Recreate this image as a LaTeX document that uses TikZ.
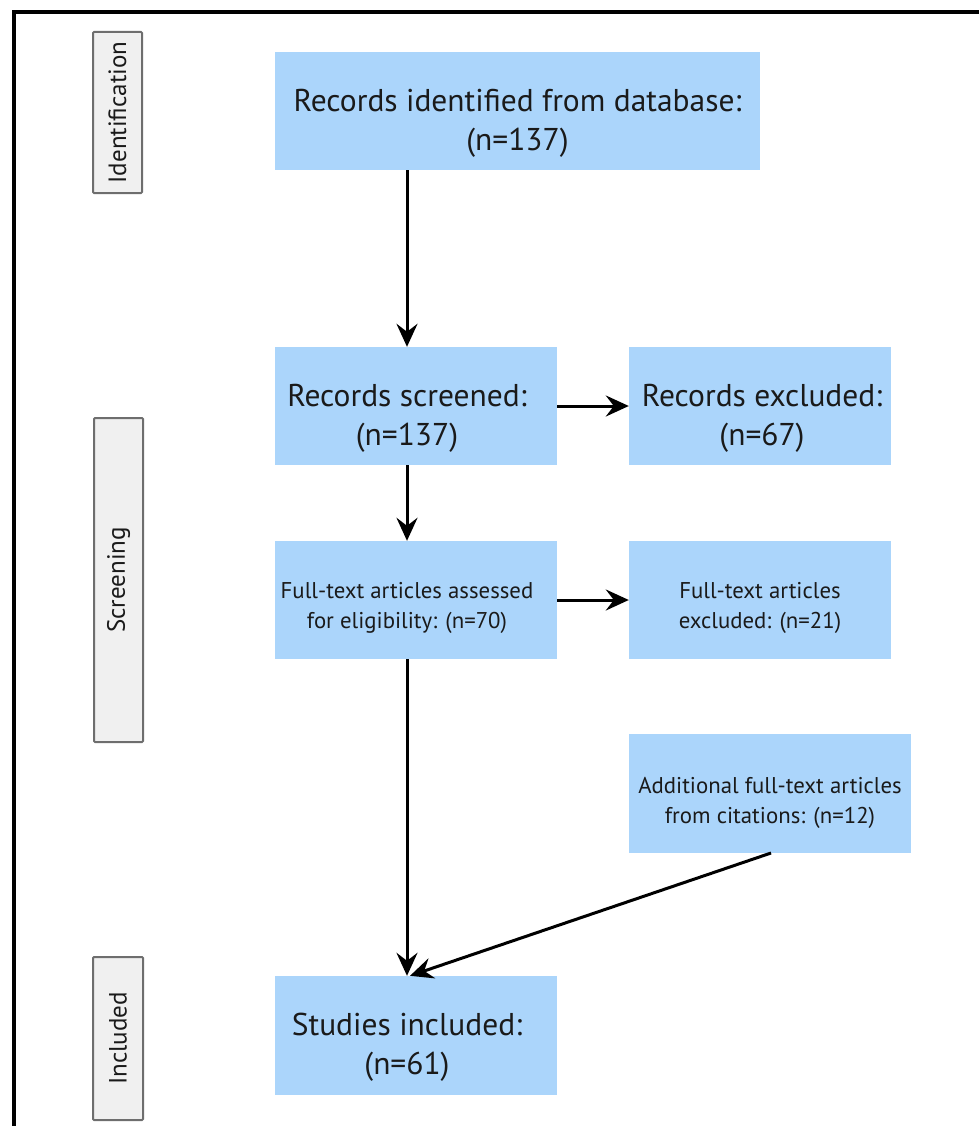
\documentclass[tikz,border=0pt]{standalone}
\usepackage{fontspec}
\setmainfont{PT Sans}
\usepackage{tikz}
\usetikzlibrary{arrows.meta,positioning}

\definecolor{boxblue}{RGB}{171,213,251}
\definecolor{stagegray}{RGB}{240,240,240}
\definecolor{stageline}{RGB}{110,110,110}
\definecolor{ink}{RGB}{26,26,26}

\tikzset{
  flowbox/.style={fill=boxblue, inner sep=0pt},
  bigtext/.style={text=ink, align=center, font=\fontsize{31.5}{39}\selectfont},
  smalltext/.style={text=ink, align=center, font=\fontsize{22.8}{30}\selectfont},
  stage/.style={draw=stageline, fill=stagegray, line width=2pt, rounded corners=1pt},
  stagetext/.style={rotate=90, text=ink, font=\fontsize{25}{30}\selectfont},
  flow/.style={line width=3pt, -{Stealth[length=23pt,width=21pt,inset=8pt]}}
}

\begin{document}
\begin{tikzpicture}[x=1pt,y=-1pt]
  \useasboundingbox (0,0) rectangle (979,1126);
  % frame
  \draw[line width=3.2pt] (14,1126) -- (14,12) -- (979,12);

  % stages
  \node[stage, minimum width=49pt, minimum height=161pt] (sid) at (117.5,112.5) {};
  \node[stagetext] at (sid) {Identification};
  \node[stage, minimum width=49pt, minimum height=324pt] (sscr) at (118.5,580) {};
  \node[stagetext] at (sscr) {Screening};
  \node[stage, minimum width=50pt, minimum height=163pt] (sinc) at (118,1038.5) {};
  \node[stagetext] at (sinc) {Included};

  % boxes
  \node[flowbox, minimum width=485pt, minimum height=118pt] (ident) at (517.5,111) {};
  \node[bigtext] at ([yshift=-12pt]ident.center) {Records identified from database:\\(n=137)};
  \node[flowbox, minimum width=282pt, minimum height=118pt] (screen) at (416,406) {};
  \node[bigtext] at ([xshift=-9pt,yshift=-12pt]screen.center) {Records screened:\\(n=137)};
  \node[flowbox, minimum width=262pt, minimum height=118pt] (excl) at (760,406) {};
  \node[bigtext] at ([xshift=2pt,yshift=-12pt]excl.center) {Records excluded:\\(n=67)};
  \node[flowbox, minimum width=282pt, minimum height=118pt] (full) at (416,600) {};
  \node[smalltext] at ([xshift=-9pt,yshift=-8pt]full.center) {Full-text articles assessed\\for eligibility: (n=70)};
  \node[flowbox, minimum width=262pt, minimum height=118pt] (fullexcl) at (760,600) {};
  \node[smalltext] at ([yshift=-8pt]fullexcl.center) {Full-text articles\\excluded: (n=21)};
  \node[flowbox, minimum width=282pt, minimum height=119pt] (addit) at (770,793.5) {};
  \node[smalltext] at ([yshift=-9pt]addit.center) {Additional full-text articles\\from citations: (n=12)};
  \node[flowbox, minimum width=282pt, minimum height=119pt] (incl) at (416,1035.5) {};
  \node[bigtext] at ([xshift=-9pt,yshift=-12pt]incl.center) {Studies included:\\(n=61)};

  \coordinate (spine) at (407,0);
  \coordinate (citeout) at (771,853);

  \draw[flow] (ident.south -| spine) -- (screen.north -| spine);
  \draw[flow] (screen.south -| spine) -- (full.north -| spine);
  \draw[flow] (full.south -| spine) -- (incl.north -| spine);
  \draw[flow] (screen.east) -- (excl.west);
  \draw[flow] (full.east) -- (fullexcl.west);
  \draw[flow] (citeout) -- ([xshift=3pt]incl.north -| spine);
\end{tikzpicture}
\end{document}
